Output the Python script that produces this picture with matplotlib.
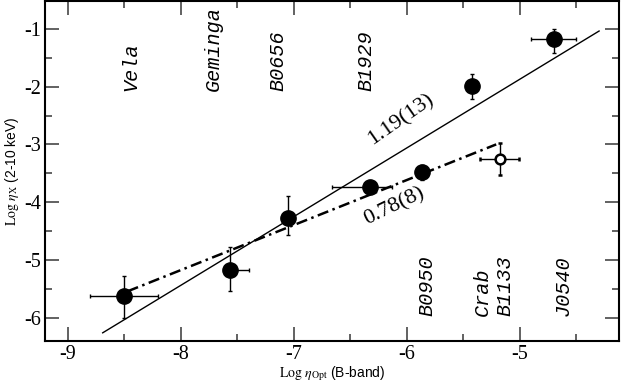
import matplotlib
matplotlib.use('Agg')
import matplotlib.pyplot as plt
from matplotlib.ticker import MultipleLocator

# pulsars with filled symbols
names_fill = ['Vela', 'Geminga', 'B0656', 'B1929', 'B0950', 'B1133', 'J0540']
log_opt = [-8.50, -7.56, -7.05, -6.33, -5.87, -5.42, -4.70]
log_x = [-5.62, -5.17, -4.28, -3.73, -3.47, -1.98, -1.18]
xerr_lo = [0.30, 0.05, 0.05, 0.33, 0.04, 0.0, 0.20]
xerr_hi = [0.30, 0.16, 0.05, 0.20, 0.04, 0.0, 0.20]
yerr_lo = [0.38, 0.36, 0.28, 0.06, 0.15, 0.24, 0.24]
yerr_hi = [0.35, 0.40, 0.38, 0.06, 0.12, 0.20, 0.18]

# Crab (open symbol)
crab_opt = [-5.18]
crab_x = [-3.25]
crab_xerr = [[0.17], [0.17]]
crab_yerr = [[0.28], [0.27]]

# fits: slope, intercept, x range
fit_all = (1.19, 4.08, -8.69, -4.30)
fit_sub = (0.78, 1.064, -8.47, -5.21)

# name labels: text, x
labels_top = [('Vela', -8.44), ('Geminga', -7.71), ('B0656', -7.14), ('B1929', -6.36)]
labels_bot = [('B0950', -5.82), ('Crab', -5.33), ('B1133', -5.13), ('J0540', -4.62)]

plt.rcParams['mathtext.fontset'] = 'stix'

fig = plt.figure(figsize=(6.21, 3.86), dpi=100)
ax = fig.add_axes([0.0725, 0.117, 0.925, 0.880])

ax.errorbar(log_opt, log_x, xerr=[xerr_lo, xerr_hi], yerr=[yerr_lo, yerr_hi],
            fmt='o', color='black', markersize=11, elinewidth=1.0, capsize=1.5)
ax.errorbar(crab_opt, crab_x, xerr=crab_xerr, yerr=crab_yerr, fmt='o',
            mfc='white', mec='black', mew=1.8, markersize=7, color='black',
            elinewidth=1.0, capsize=1.5)

m, b, x0, x1 = fit_all
ax.plot([x0, x1], [m * x0 + b, m * x1 + b], color='black', lw=1.0)
m, b, x0, x1 = fit_sub
ax.plot([x0, x1], [m * x0 + b, m * x1 + b], color='black', lw=1.8,
        dashes=[4.5, 1.8, 1.0, 1.8])

ax.text(-6.05, -2.57, '1.19(13)', rotation=35, ha='center', va='center',
        fontsize=16, family='Liberation Serif')
ax.text(-6.11, -4.08, '0.78(8)', rotation=26, ha='center', va='center',
        fontsize=16, family='Liberation Serif')

for name, xpos in labels_top:
    ax.text(xpos, -2.07, name, rotation=90, ha='center', va='bottom',
            fontsize=14.5, family='Liberation Mono', style='italic')
for name, xpos in labels_bot:
    ax.text(xpos, -5.97, name, rotation=90, ha='center', va='bottom',
            fontsize=14.5, family='Liberation Mono', style='italic')

ax.set_xlim(-9.2, -4.12)
ax.set_ylim(-6.4, -0.52)
ax.xaxis.set_major_locator(MultipleLocator(1))
ax.xaxis.set_minor_locator(MultipleLocator(0.5))
ax.yaxis.set_major_locator(MultipleLocator(1))
ax.yaxis.set_minor_locator(MultipleLocator(0.5))
ax.tick_params(which='both', direction='in', top=True, right=True,
               color='#555555', width=1.3)
ax.tick_params(which='major', length=10, pad=3)
ax.tick_params(which='minor', length=5)
ax.set_xticklabels(['%d' % v for v in ax.get_xticks()])
ax.set_yticklabels(['%d' % v for v in ax.get_yticks()])
for lab in ax.get_xticklabels() + ax.get_yticklabels():
    lab.set_family('Liberation Serif')
    lab.set_fontsize(14.5)
for s in ax.spines.values():
    s.set_linewidth(1.5)

ax.set_xlabel(r'$\mathrm{Log}\ \eta_{\rm Opt}$ (B-band)', fontsize=10,
              family='Liberation Sans', labelpad=0)
ax.set_ylabel(r'$\mathrm{Log}\ \eta_{\rm X}$ (2-10 keV)', fontsize=10,
              family='Liberation Sans', labelpad=2)

fig.savefig('out.png', dpi=100)
